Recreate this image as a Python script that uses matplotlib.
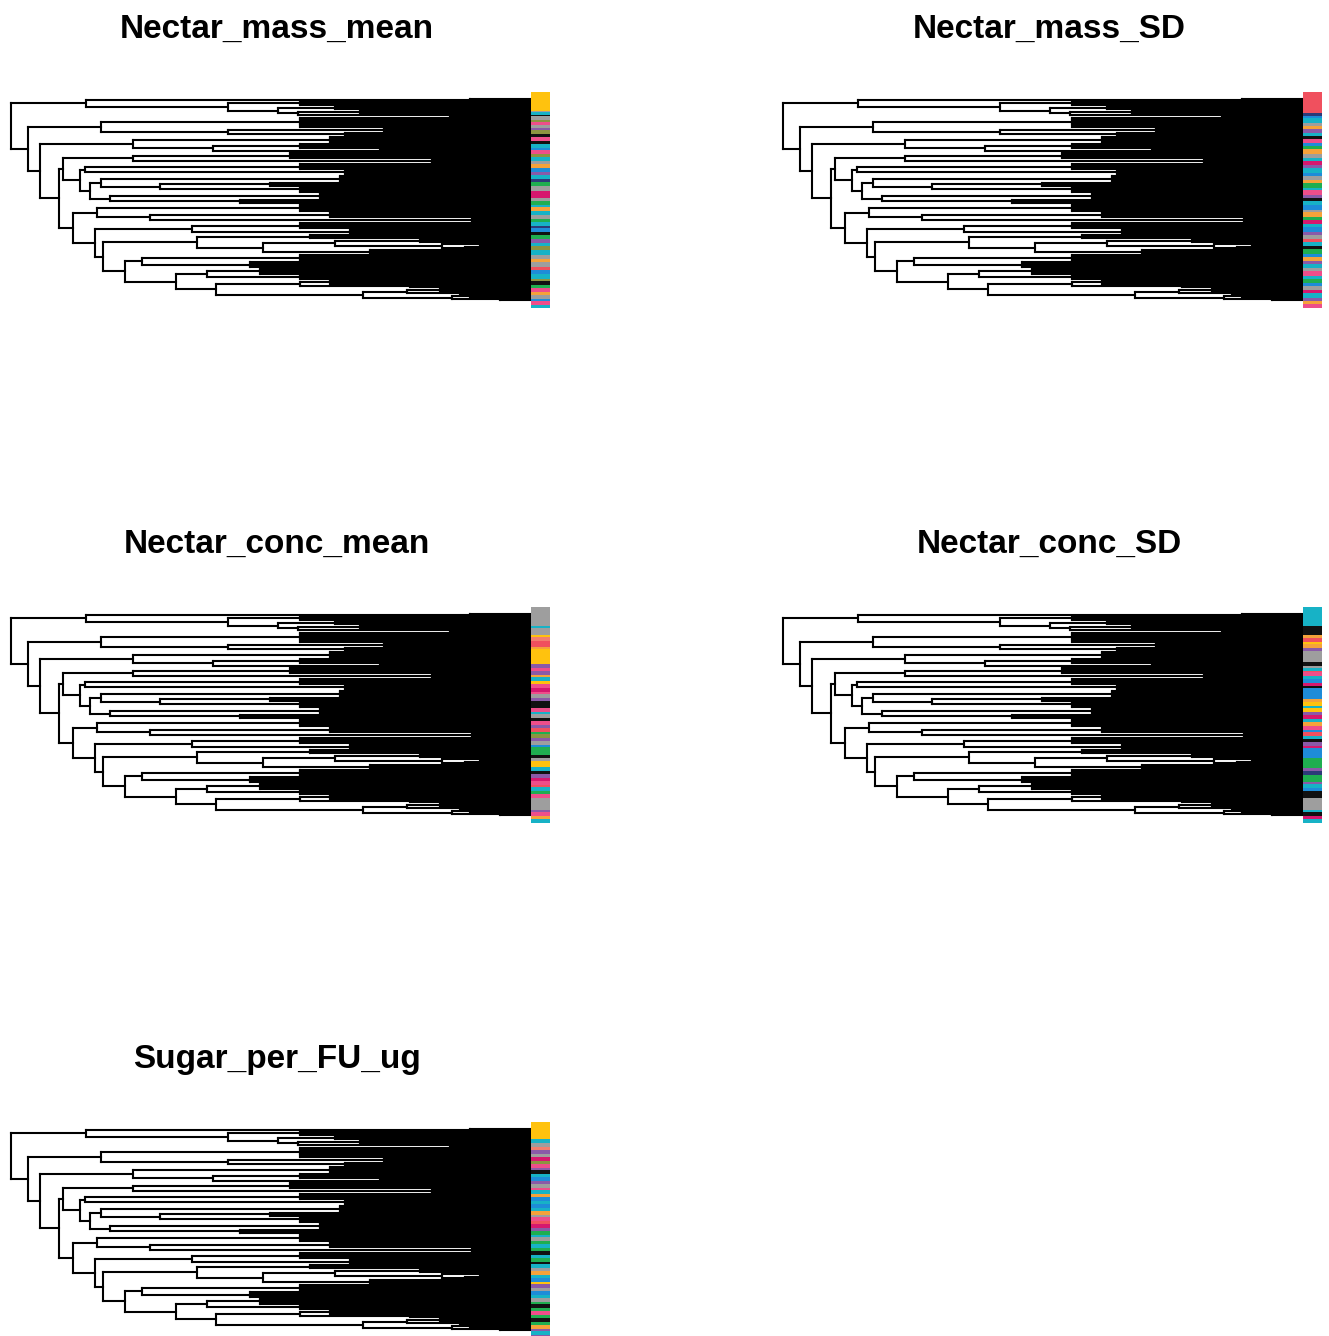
import matplotlib
matplotlib.use("Agg")
import matplotlib.pyplot as plt
import numpy as np
from matplotlib.collections import LineCollection
from matplotlib.colors import to_rgb

W, H = 1329, 1336

# phylogeny: [node_depth, child, child, ...]; (depth, n) is a clade of n tips
# fanning out from a node at that depth. Depth runs from 0 (root) to TIP_DEPTH.
TIP_DEPTH = 519
TREE = [0,
    [75, (459, 2), [217, (289, 4), [267, (324, 3), [287, (349, 3), (439, 3)]]]],
    [17,
        [90, (289, 8), [217, (373, 4), (334, 3)]],
        [29,
            [122, (319, 6), [202, (289, 4), (369, 3)]],
            [48,
                [52,
                    [122, (279, 5), (421, 4)],
                    [69, [74, (289, 5), (334, 4)],
                         [79, [90, (329, 6), [149, (259, 3), (289, 5)]],
                              [99, (309, 5), (229, 4)]]]],
                [62,
                    [86, (289, 6), [139, (319, 5), (461, 4)]],
                    [84,
                        [181, (289, 5), (339, 4)],
                        [92,
                            [186, (299, 4),
                                  [252, [324, (409, 3), [431, (469, 2), [454, (489, 2), (479, 1)]]],
                                        (359, 4)]],
                            [114,
                                [131, (289, 6), (239, 5)],
                                [165, [196, (249, 5), (289, 4)],
                                      [205, [289, (319, 4), (399, 3)],
                                            [352, [396, (429, 3), (449, 2)],
                                                  [441, (459, 3), (489, 2)]]]]]]]]]]]]

TRAITS = ["Nectar_mass_mean", "Nectar_mass_SD", "Nectar_conc_mean",
          "Nectar_conc_SD", "Sugar_per_FU_ug"]

PALETTE = {
    "Y": "#FFC20E", "G": "#9E9E9E", "T": "#17B2C6", "B": "#1E8CD8",
    "N": "#1FAE50", "P": "#EE4E8A", "M": "#D6186E", "R": "#F0505E",
    "U": "#8A5AA8", "K": "#111111", "O": "#F5A23A", "L": "#8C9440",
    "S": "#F27F6E", "V": "#2C3A78",
}

# tip colour runs, top to bottom
BARS = {
    "Nectar_mass_mean":
        "Y14 G1 T2 K1 G3 L2 P2 G2 U2 L3 K2 P3 K2 T3 B2 P3 L2 T3 G2 O3 B3 U3 T3 V2 "
        "N3 G4 M5 G2 N3 T2 O3 T3 G3 N2 T3 V2 B3 K2 N3 U3 T2 L3 T4 G3 O2 G4 R2 B3 "
        "T4 L2 K3 N2 P3 O2 G3 B2 P3 T2",
    "Nectar_mass_SD":
        "R14 V2 B2 T3 G2 O2 U3 T2 K2 P3 B2 N2 O3 G3 T2 M3 U2 T3 B2 G3 O2 N3 T2 P3 "
        "U2 K2 T3 B3 G2 O3 N2 M3 T2 B3 U2 G3 R2 T3 K2 N3 B2 O3 U2 T3 G2 P3 T2 N3 "
        "B2 G3 M2 T3 U2 O2 P3",
    "Nectar_conc_mean":
        "G14 T2 G5 Y2 S3 R4 O2 Y11 U3 P2 U3 O2 T3 Y2 P3 M3 P2 G3 U2 K5 P3 T2 G3 K2 "
        "P3 U2 R3 N2 L3 U2 G3 B2 N6 K2 G2 Y5 T3 K2 U3 M2 P3 R2 T3 N2 P3 G9 U2 P3 "
        "O2 T3",
    "Nectar_conc_SD":
        "T14 K7 O2 R3 Y2 O3 U2 G8 K3 G2 T2 R1 P3 T2 B3 M2 K2 B8 O2 Y3 T2 Y3 U2 M3 "
        "T2 O3 P3 B2 R3 T2 K2 U3 M2 B7 N8 U2 V3 N5 U2 T3 B2 K5 G9 T2 K3 M2 T3",
    "Sugar_per_FU_ug":
        "Y13 T3 G3 S2 U3 G2 M3 L2 P3 U2 K3 T2 B3 U2 G3 P2 T3 O2 B3 T2 B3 T2 O3 G2 "
        "P3 R2 M3 U2 N3 T2 G3 N2 T3 N2 K3 T2 N3 K2 T3 G2 O3 T2 B3 Y2 U3 G2 B3 T2 "
        "G3 N2 K3 N2 P3 N2 K3 N2 O3 U2 T3 U2",
}

# top-left corner of each panel's tree area (figure pixels)
ORIGINS = [(11, 99), (783, 99), (11, 614), (783, 614), (11, 1129)]
TREE_W, TREE_H = 519, 201
BAR_DX, BAR_W = 520, 19
BAR_TOP, BAR_H = -7, 216


def layout(node, parent_x, segs, counter):
    """Walk the tree, returning the node's y and adding line segments."""
    if isinstance(node, tuple):
        x, n = node
        ys = [counter[0] + i for i in range(n)]
        counter[0] += n
        for y in ys:
            segs.append([(x, y), (TIP_DEPTH, y)])
        if n > 1:
            segs.append([(x, ys[0]), (x, ys[-1])])
        y_node = (ys[0] + ys[-1]) / 2
    else:
        x = node[0]
        ys = [layout(ch, x, segs, counter) for ch in node[1:]]
        segs.append([(x, min(ys)), (x, max(ys))])
        y_node = (ys[0] + ys[-1]) / 2
    if parent_x is not None:
        segs.append([(parent_x, y_node), (x, y_node)])
    return y_node


segs = []
counter = [0]
layout(TREE, None, segs, counter)
n_tips = counter[0]


def runs_to_colors(spec):
    cols = []
    for tok in spec.split():
        cols += [to_rgb(PALETTE[tok[0]])] * int(tok[1:])
    return np.array(cols)


fig = plt.figure(figsize=(W / 100, H / 100), dpi=100)


def px_axes(x0, y0, w, h):
    return fig.add_axes([x0 / W, 1 - (y0 + h) / H, w / W, h / H])


for trait, (ox, oy) in zip(TRAITS, ORIGINS):
    ax = px_axes(ox, oy, TREE_W, TREE_H)
    lc = LineCollection(segs, colors="black", linewidths=1.5, clip_on=False,
                        capstyle="projecting")
    ax.add_collection(lc)
    ax.set_xlim(0, TIP_DEPTH)
    ax.set_ylim(n_tips - 1, 0)
    ax.axis("off")

    bx = px_axes(ox + BAR_DX, oy + BAR_TOP, BAR_W, BAR_H)
    cols = runs_to_colors(BARS[trait])
    bx.imshow(cols[:, None, :], aspect="auto", interpolation="nearest")
    bx.axis("off")

    fig.text((ox + 266) / W, 1 - (oy - 61) / H, trait, ha="center", va="baseline",
             fontsize=24, fontweight="bold", family="Liberation Sans")

fig.savefig("out.png", dpi=100)
